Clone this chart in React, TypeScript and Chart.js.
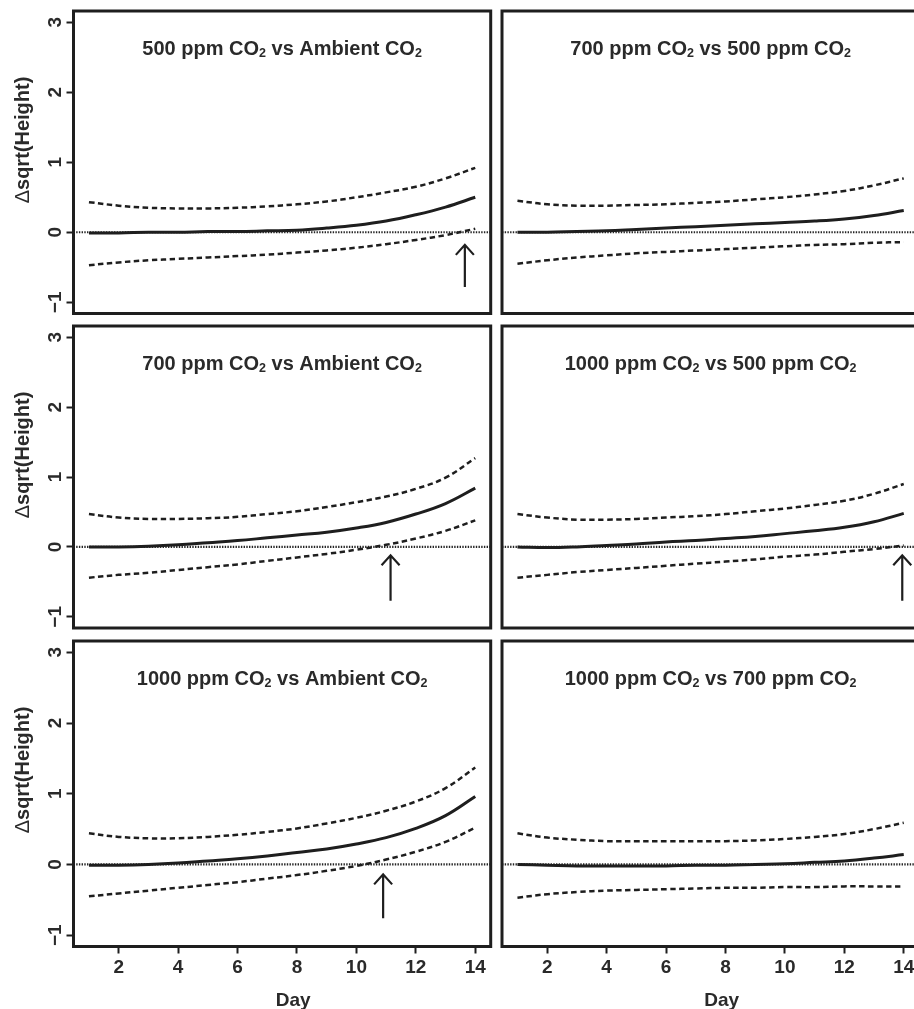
import React, { useEffect, useRef } from "react";
import { Chart, registerables } from "chart.js";

Chart.register(...registerables);

// ---------- data ----------
const days = [1, 2, 3, 4, 5, 6, 7, 8, 9, 10, 11, 12, 13, 14];
const xTickValues = [2, 4, 6, 8, 10, 12, 14];
const yTickValues = [-1, 0, 1, 2, 3];
const referenceValue = 0;

const panelTitles = [
  "500 ppm CO₂ vs Ambient CO₂",
  "700 ppm CO₂ vs 500 ppm CO₂",
  "700 ppm CO₂ vs Ambient CO₂",
  "1000 ppm CO₂ vs 500 ppm CO₂",
  "1000 ppm CO₂ vs Ambient CO₂",
  "1000 ppm CO₂ vs 700 ppm CO₂",
];
const yAxisTitle = "sqrt(Height)";
const xAxisTitle = "Day";

const p1Upper = [0.43, 0.38, 0.35, 0.34, 0.34, 0.35, 0.37, 0.40, 0.44, 0.50, 0.57, 0.65, 0.77, 0.92];
const p1Mean = [-0.01, -0.01, 0.0, 0.0, 0.01, 0.01, 0.02, 0.03, 0.06, 0.10, 0.16, 0.25, 0.36, 0.50];
const p1Lower = [-0.47, -0.43, -0.40, -0.38, -0.36, -0.34, -0.32, -0.29, -0.26, -0.22, -0.17, -0.11, -0.04, 0.05];

const p2Upper = [0.45, 0.40, 0.38, 0.38, 0.39, 0.40, 0.42, 0.44, 0.47, 0.50, 0.54, 0.59, 0.67, 0.77];
const p2Mean = [0.0, 0.0, 0.01, 0.02, 0.04, 0.06, 0.08, 0.10, 0.12, 0.14, 0.16, 0.19, 0.24, 0.31];
const p2Lower = [-0.45, -0.40, -0.36, -0.33, -0.30, -0.28, -0.26, -0.24, -0.22, -0.20, -0.18, -0.17, -0.15, -0.14];

const p3Upper = [0.47, 0.42, 0.40, 0.40, 0.41, 0.43, 0.47, 0.51, 0.57, 0.64, 0.72, 0.83, 0.99, 1.27];
const p3Mean = [0.0, 0.0, 0.01, 0.03, 0.06, 0.09, 0.13, 0.17, 0.21, 0.27, 0.35, 0.47, 0.62, 0.84];
const p3Lower = [-0.44, -0.40, -0.37, -0.33, -0.29, -0.25, -0.20, -0.15, -0.10, -0.04, 0.03, 0.12, 0.23, 0.38];

const p4Upper = [0.47, 0.42, 0.39, 0.39, 0.40, 0.42, 0.44, 0.47, 0.51, 0.55, 0.60, 0.66, 0.76, 0.90];
const p4Mean = [0.0, -0.01, 0.0, 0.02, 0.04, 0.07, 0.09, 0.12, 0.15, 0.19, 0.23, 0.28, 0.36, 0.48];
const p4Lower = [-0.44, -0.40, -0.36, -0.33, -0.30, -0.27, -0.24, -0.21, -0.18, -0.14, -0.11, -0.07, -0.03, 0.02];

const p5Upper = [0.44, 0.39, 0.37, 0.37, 0.39, 0.42, 0.46, 0.51, 0.58, 0.66, 0.76, 0.89, 1.08, 1.37];
const p5Mean = [-0.01, -0.01, 0.0, 0.02, 0.05, 0.08, 0.12, 0.17, 0.22, 0.29, 0.38, 0.51, 0.69, 0.96];
const p5Lower = [-0.45, -0.41, -0.37, -0.33, -0.29, -0.25, -0.20, -0.15, -0.09, -0.02, 0.07, 0.18, 0.32, 0.52];

const p6Upper = [0.44, 0.38, 0.35, 0.33, 0.33, 0.33, 0.33, 0.33, 0.34, 0.36, 0.39, 0.43, 0.50, 0.59];
const p6Mean = [0.0, -0.01, -0.02, -0.02, -0.02, -0.02, -0.01, -0.01, 0.0, 0.01, 0.03, 0.05, 0.09, 0.14];
const p6Lower = [-0.47, -0.42, -0.39, -0.37, -0.36, -0.35, -0.34, -0.33, -0.33, -0.32, -0.32, -0.31, -0.31, -0.31];

// arrows marking where the lower band crosses zero (null = none)
const arrowDay = [13.65, null, 11.15, 13.95, 10.9, null];
const arrowFrom = [-0.78, null, -0.77, -0.77, -0.76, null];
const arrowTo = [-0.18, null, -0.12, -0.12, -0.14, null];

const panelSeries = [
  [p1Upper, p1Mean, p1Lower],
  [p2Upper, p2Mean, p2Lower],
  [p3Upper, p3Mean, p3Lower],
  [p4Upper, p4Mean, p4Lower],
  [p5Upper, p5Mean, p5Lower],
  [p6Upper, p6Mean, p6Lower],
];

// ---------- layout / style ----------
const FONT = "'Liberation Sans', Arial, Helvetica, sans-serif";
const INK = "#1e1e1e";
const TEXT = "#2a2a2a";
const X_MIN = 0.48;
const X_MAX = 14.52;
const Y_MIN = -1.16;
const Y_MAX = 3.16;

const cols = [
  { canvasLeft: 0, width: 500, areaLeft: 73.5, areaRight: 490.7 },
  { canvasLeft: 495, width: 430, areaLeft: 502, areaRight: 919.2 },
];
const rows = [
  { top: 11, bottom: 313.5 },
  { top: 326, bottom: 628 },
  { top: 641, bottom: 946.5 },
];
const PAGE_H = 1009;

Chart.defaults.font.family = FONT;
Chart.defaults.color = TEXT;

function fmtTick(v: number) {
  return v < 0 ? "\u2212" + Math.abs(v) : String(v);
}

function drawTitle(ctx: CanvasRenderingContext2D, text: string, cx: number, baseline: number) {
  const parts = text.split("₂");
  const mainFont = `bold 20px ${FONT}`;
  const subFont = `bold 12.5px ${FONT}`;
  ctx.font = mainFont;
  const widths = parts.map((p) => ctx.measureText(p).width);
  ctx.font = subFont;
  const subW = ctx.measureText("2").width;
  const total = widths.reduce((a, b) => a + b, 0) + subW * (parts.length - 1);
  let x = cx - total / 2;
  ctx.textAlign = "left";
  ctx.textBaseline = "alphabetic";
  ctx.fillStyle = TEXT;
  parts.forEach((p, i) => {
    ctx.font = mainFont;
    ctx.fillText(p, x, baseline);
    x += widths[i];
    if (i < parts.length - 1) {
      ctx.font = subFont;
      ctx.fillText("2", x, baseline + 1.5);
      x += subW;
    }
  });
}

function makePlugin(idx: number, isLeft: boolean, isBottom: boolean) {
  return {
    id: "panelDeco" + idx,
    beforeDatasetsDraw(chart: any) {
      const { ctx, chartArea: a, scales } = chart;
      const y0 = scales.y.getPixelForValue(referenceValue);
      ctx.save();
      ctx.strokeStyle = "#262626";
      ctx.lineWidth = 2.2;
      ctx.setLineDash([1.4, 1.3]);
      ctx.beginPath();
      ctx.moveTo(a.left, y0);
      ctx.lineTo(a.right, y0);
      ctx.stroke();
      ctx.restore();
    },
    afterDatasetsDraw(chart: any) {
      const { ctx, chartArea: a, scales } = chart;
      ctx.save();
      // frame
      ctx.setLineDash([]);
      ctx.strokeStyle = INK;
      ctx.lineWidth = 3;
      ctx.strokeRect(a.left, a.top, a.right - a.left, a.bottom - a.top);
      // arrow
      const ad = arrowDay[idx];
      if (ad !== null) {
        const ax = scales.x.getPixelForValue(ad);
        const y1 = scales.y.getPixelForValue(arrowFrom[idx] as number);
        const y2 = scales.y.getPixelForValue(arrowTo[idx] as number);
        ctx.lineWidth = 2.2;
        ctx.beginPath();
        ctx.moveTo(ax, y1);
        ctx.lineTo(ax, y2);
        ctx.moveTo(ax - 9, y2 + 10);
        ctx.lineTo(ax, y2);
        ctx.lineTo(ax + 9, y2 + 10);
        ctx.stroke();
      }
      // title
      drawTitle(ctx, panelTitles[idx], (a.left + a.right) / 2, a.top + 44);
      ctx.restore();
    },
    afterDraw(chart: any) {
      const { ctx, chartArea: a } = chart;
      ctx.save();
      ctx.fillStyle = TEXT;
      if (isLeft) {
        ctx.translate(28.5, a.top + 129);
        ctx.rotate(-Math.PI / 2);
        const dFont = `20px ${FONT}`;
        const bFont = `bold 20px ${FONT}`;
        ctx.font = dFont;
        const dW = ctx.measureText("Δ").width;
        ctx.font = bFont;
        const tW = ctx.measureText(yAxisTitle).width;
        const start = -(dW + tW) / 2;
        ctx.textAlign = "left";
        ctx.textBaseline = "alphabetic";
        ctx.font = dFont;
        ctx.fillText("Δ", start, 0);
        ctx.font = bFont;
        ctx.fillText(yAxisTitle, start + dW, 0);
        ctx.setTransform(1, 0, 0, 1, 0, 0);
      }
      if (isBottom) {
        ctx.font = `bold 19px ${FONT}`;
        ctx.textAlign = "center";
        ctx.textBaseline = "alphabetic";
        ctx.fillText(xAxisTitle, (a.left + a.right) / 2 + 11, a.bottom + 59);
      }
      ctx.restore();
    },
  };
}

function Panel({ idx }: { idx: number }) {
  const ref = useRef<HTMLCanvasElement | null>(null);
  const row = Math.floor(idx / 2);
  const col = idx % 2;
  const isLeft = col === 0;
  const isBottom = row === 2;
  const c = cols[col];
  const r = rows[row];
  const canvasTop = r.top - 10;
  const areaH = r.bottom - r.top;
  const canvasH = isBottom ? PAGE_H - canvasTop : Math.ceil(areaH + 16);
  const padBottom = isBottom ? 0 : canvasH - 10 - areaH;
  const padLeft = isLeft ? 0 : c.areaLeft - c.canvasLeft;
  const padRight = c.canvasLeft + c.width - c.areaRight;

  useEffect(() => {
    const canvas = ref.current;
    if (!canvas) return;
    const [upper, mean, lower] = panelSeries[idx];
    const toXY = (arr: number[]) => days.map((d, i) => ({ x: d, y: arr[i] }));
    const dashed = {
      borderColor: INK,
      borderWidth: 2.5,
      borderDash: [5.5, 3.5],
      pointRadius: 0,
      tension: 0.4,
      fill: false,
    };
    const zeroPad = (s: any) => {
      s.paddingTop = 0;
      s.paddingBottom = 0;
      s.paddingLeft = 0;
      s.paddingRight = 0;
    };
    const chart = new Chart(canvas, {
      type: "line",
      data: {
        datasets: [
          { ...dashed, label: "upper", data: toXY(upper) },
          {
            label: "estimate",
            data: toXY(mean),
            borderColor: INK,
            borderWidth: 3,
            pointRadius: 0,
            tension: 0.4,
            fill: false,
          },
          { ...dashed, label: "lower", data: toXY(lower) },
        ],
      },
      options: {
        animation: false,
        responsive: false,
        devicePixelRatio: 1,
        events: [],
        layout: { padding: { left: padLeft, right: padRight, top: 10, bottom: padBottom } },
        plugins: { legend: { display: false }, tooltip: { enabled: false }, title: { display: false } },
        scales: {
          x: {
            type: "linear",
            min: X_MIN,
            max: X_MAX,
            display: isBottom,
            afterBuildTicks: (s: any) => {
              s.ticks = xTickValues.map((v) => ({ value: v }));
            },
            afterFit: (s: any) => {
              zeroPad(s);
              if (isBottom) s.height = PAGE_H - r.bottom;
            },
            grid: { drawOnChartArea: false, drawTicks: true, tickLength: 7, tickWidth: 2, tickColor: INK },
            border: { display: false },
            ticks: {
              padding: 3,
              maxRotation: 0,
              autoSkip: false,
              color: TEXT,
              font: { size: 19, weight: "bold" },
              callback: (v: any) => fmtTick(Number(v)),
            },
          },
          y: {
            type: "linear",
            min: Y_MIN,
            max: Y_MAX,
            display: isLeft,
            afterBuildTicks: (s: any) => {
              s.ticks = yTickValues.map((v) => ({ value: v }));
            },
            afterFit: (s: any) => {
              zeroPad(s);
              if (isLeft) s.width = c.areaLeft - c.canvasLeft;
            },
            grid: { drawOnChartArea: false, drawTicks: true, tickLength: 7, tickWidth: 2, tickColor: INK },
            border: { display: false },
            ticks: {
              minRotation: 90,
              maxRotation: 90,
              crossAlign: "center",
              padding: 0,
              autoSkip: false,
              color: TEXT,
              font: { size: 19, weight: "bold" },
              callback: (v: any) => fmtTick(Number(v)),
            },
          },
        },
      },
      plugins: [makePlugin(idx, isLeft, isBottom)],
    } as any);
    return () => chart.destroy();
  }, [idx]);

  return (
    <canvas
      ref={ref}
      width={c.width}
      height={canvasH}
      style={{
        position: "absolute",
        left: c.canvasLeft,
        top: canvasTop,
        width: c.width,
        height: canvasH,
      }}
    />
  );
}

export default function App() {
  return (
    <div
      style={{
        position: "fixed",
        left: 0,
        top: 0,
        width: 914,
        height: PAGE_H,
        overflow: "hidden",
        background: "#fff",
      }}
    >
      {[0, 1, 2, 3, 4, 5].map((i) => (
        <Panel key={i} idx={i} />
      ))}
    </div>
  );
}
